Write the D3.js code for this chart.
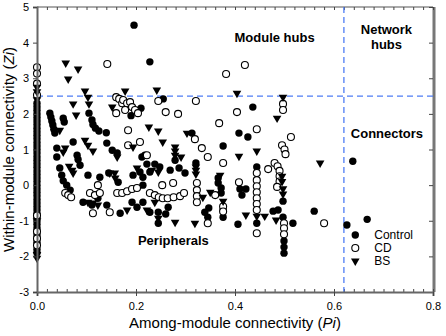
<!DOCTYPE html>
<html>
<head>
<meta charset="utf-8">
<script src="https://cdn.jsdelivr.net/npm/d3@7"></script>
<style>
body { margin: 0; background: #fff; }
text { font-family: Arial, "Liberation Sans", sans-serif; }
</style>
</head>
<body>
<div id="chart"></div>
<script>
// axis ticks and thresholds
var xTicks = [0, 0.2, 0.4, 0.6, 0.8];
var yTicks = [-3, -2, -1, 0, 1, 2, 3, 4, 5];
var piCut = 0.62, ziCut = 2.5;

// [Pi, Zi] per node
var control = [
[0,2.3],[0,2.2],[0,2.1],[0,2.0],[0,1.9],[0,1.8],[0,1.7],[0,1.6],[0,1.5],[0,1.4],[0,1.3],[0,1.2],[0,1.1],[0,1.0],
[0,0.9],[0,0.8],[0,0.7],[0,0.6],[0,0.5],[0,0.4],[0,0.3],[0,0.2],[0,0.1],[0,0.0],[0,-0.1],[0,-0.2],[0,-0.3],[0,-0.4],
[0,-0.5],[0,-0.6],[0,-0.7],[0,-0.8],[0,-0.9],[0,-1.0],[0,-1.1],[0,-1.2],[0,-1.3],[0,-1.4],[0,-1.5],[0,-1.6],[0,-1.8],[0,-1.9],
[0.026,2.02],[0.028,1.91],[0.03,1.8],[0.032,1.69],[0.034,1.57],[0.036,1.46],[0.053,1.88],[0.055,1.77],
[0.105,2.02],[0.111,1.83],[0.113,1.7],[0.118,1.6],[0.125,1.52],[0.14,1.47],
[0.19,1.95],[0.21,2.16],[0.196,4.49],[0.228,3.46],[0.255,2.42],[0.436,2.19],
[0.073,1.21],[0.04,1.04],[0.04,0.79],[0.081,0.84],[0.083,0.72],[0.141,1.18],[0.152,0.98],[0.162,0.9],[0.212,0.79],
[0.046,0.48],[0.05,0.28],[0.053,0.12],[0.06,0.0],[0.067,-0.14],[0.087,0.56],[0.103,0.28],[0.127,0.22],[0.145,0.34],
[0.164,0.08],[0.194,0.28],[0.214,0.22],[0.093,-0.48],[0.111,-0.56],[0.123,-0.37],[0.141,-0.56],[0.168,-0.79],
[0.192,-0.48],[0.202,-0.62],[0.218,0.84],[0.222,0.59],[0.238,0.59],[0.248,0.51],[0.269,0.42],[0.287,0.48],
[0.299,0.34],[0.228,0.37],[0.208,0.37],[0.279,0.7],[0.321,0.62],[0.214,0.0],
[0.366,0.06],[0.366,0.2],[0.372,-0.08],[0.372,-0.22],[0.41,-0.11],[0.422,-0.11],[0.414,-0.28],
[0.408,1.46],[0.426,1.35],[0.376,1.1],[0.444,0.51],[0.313,1.46],
[0.214,-0.48],[0.228,-0.76],[0.245,-0.76],[0.245,-1.07],[0.26,-0.81],[0.265,-0.62],
[0.339,-0.76],[0.347,-0.64],[0.345,-0.9],[0.376,-0.9],[0.376,-0.7],[0.406,-1.1],[0.444,-1.07],[0.477,-0.73],
[0.517,-1.07],[0.499,-1.57],[0.499,-1.74],[0.499,-1.91],[0.487,-0.7],[0.497,-0.45],[0.497,-0.9],
[0.56,-0.73],[0.626,-1.12],[0.667,-0.96],[0.638,0.67]
];

var cd = [
[0,3.31],[0,3.13],[0,2.85],[0,2.53],[0,-0.85],[0,-1.3],[0,-1.5],[0,-1.69],
[0.142,3.4],[0.16,2.47],[0.166,2.42],[0.172,2.3],[0.174,2.39],[0.182,2.3],[0.188,2.33],[0.192,2.19],
[0.198,2.11],[0.204,2.02],[0.16,2.02],[0.178,2.11],
[0.245,2.36],[0.26,2.05],[0.285,2.0],[0.321,2.36],[0.382,3.12],[0.42,3.37],[0.404,2.05],[0.497,2.28],[0.497,2.11],
[0.184,1.54],[0.208,1.21],[0.184,1.12],[0.222,0.84],
[0.368,1.74],[0.444,1.57],[0.513,1.35],[0.319,1.29],[0.333,1.04],[0.345,0.79],[0.495,1.12],[0.5,1.0],[0.502,0.87],[0.376,0.62],
[0.467,0.45],[0.48,0.62],[0.486,0.53],[0.49,0.4],[0.49,0.25],[0.49,0.1],[0.485,-0.05],
[0.444,0.34],[0.444,0.14],[0.444,-0.03],[0.444,-0.2],[0.444,-0.37],[0.444,-0.53],[0.444,-0.7],[0.444,-1.35],
[0.323,0.06],[0.323,-0.14],[0.323,-0.31],[0.323,-0.48],[0.408,0.08],[0.253,0.0],[0.275,0.06],
[0.228,-0.22],[0.238,-0.28],[0.246,-0.34],[0.254,-0.37],[0.264,-0.37],[0.276,-0.34],[0.289,-0.31],[0.297,-0.22],
[0.36,-0.28],[0.345,-1.07],[0.376,-0.6],[0.376,-0.74],[0.499,-1.07],[0.499,-1.21],[0.499,-1.38],[0.58,-1.07],
[0.057,-0.22],[0.063,-0.28],[0.069,-0.34],[0.107,-0.22],[0.117,-0.28],[0.127,-0.22],[0.113,-0.79],[0.123,0.0],
[0.162,-0.22],[0.172,-0.22],[0.182,-0.17],[0.192,-0.11],[0.202,-0.08],[0.147,-0.76]
];

var bs = [
[0,2.75],[0,2.62],[0,2.4],[0,-1.0],[0,-1.95],[0,-2.05],
[0.058,3.43],[0.083,3.26],[0.063,2.98],[0.097,2.64],[0.103,2.47],[0.178,2.64],[0.073,2.28],[0.079,1.97],
[0.105,2.28],[0.152,2.19],[0.046,1.54],
[0.097,1.26],[0.103,1.12],[0.113,0.96],[0.057,1.04],[0.053,0.93],[0.162,0.79],[0.194,1.07],
[0.065,0.53],[0.071,0.42],[0.157,0.34],[0.147,0.34],[0.158,0.2],[0.202,0.48],[0.073,0.34],
[0.242,2.67],[0.404,2.58],[0.497,2.47],[0.485,1.88],[0.226,1.63],[0.245,1.52],[0.254,1.21],[0.303,1.46],
[0.279,1.07],[0.279,0.96],[0.279,0.84],[0.291,0.79],[0.408,0.81],[0.444,0.96],
[0.232,0.42],[0.245,0.37],[0.321,0.51],[0.321,0.42],[0.321,0.31],
[0.37,0.28],[0.335,-0.34],[0.35,-0.2],
[0.103,-0.48],[0.113,-0.5],[0.123,-0.56],[0.182,-0.7],[0.222,-0.7],[0.238,-0.48],[0.245,-0.93],[0.279,-1.04],
[0.319,-1.07],[0.422,-0.84],[0.444,-0.87],[0.46,-0.87],[0.483,-0.98],
[0.572,0.62],[0.495,0.25],[0.495,0.1],[0.497,-0.1],[0.497,-0.25],[0.376,-0.45]
];

var W = 446, H = 336;
var margin = {top: 7, right: 13, bottom: 44, left: 37};
var width = W - margin.left - margin.right,
    height = H - margin.top - margin.bottom;

var svg = d3.select("#chart").append("svg")
    .attr("width", W).attr("height", H)
  .append("g")
    .attr("transform", `translate(${margin.left},${margin.top})`);

var x = d3.scaleLinear().domain([0, 0.8]).range([0, width]);
var y = d3.scaleLinear().domain([-3, 5]).range([height, 0]);

var minorX = d3.range(0, 0.801, 0.02);

// frame: top and right
svg.append("line").attr("x1", 0).attr("x2", width).attr("y1", 0).attr("y2", 0)
    .attr("stroke", "#555").attr("stroke-width", 1.2);
svg.append("line").attr("x1", width + 1).attr("x2", width + 1).attr("y1", 0).attr("y2", height)
    .attr("stroke", "#777").attr("stroke-width", 3);

// top minor ticks
svg.append("g").call(d3.axisTop(x).tickValues(minorX).tickSize(-3).tickFormat(""))
    .call(g => g.select(".domain").remove())
    .selectAll("line").attr("stroke", "#444");

// right ticks
svg.append("g").attr("transform", `translate(${width},0)`)
    .call(d3.axisRight(y).tickValues(yTicks).tickSize(-4).tickFormat(""))
    .call(g => g.select(".domain").remove())
    .selectAll("line").attr("stroke", "#444");

// bottom minor ticks pointing in
svg.append("g").attr("transform", `translate(0,${height})`)
    .call(d3.axisBottom(x).tickValues(minorX).tickSize(-3).tickFormat(""))
    .call(g => g.select(".domain").remove())
    .selectAll("line").attr("stroke", "#444");

// dashed thresholds
svg.append("line").attr("x1", x(piCut)).attr("x2", x(piCut)).attr("y1", 0).attr("y2", height)
    .attr("stroke", "#4d7cf5").attr("stroke-width", 1.3).attr("stroke-dasharray", "6,4");
svg.append("line").attr("x1", 0).attr("x2", width).attr("y1", y(ziCut)).attr("y2", y(ziCut))
    .attr("stroke", "#4d7cf5").attr("stroke-width", 1.3).attr("stroke-dasharray", "6,4");

// points
var tri = d3.symbol().type(d3.symbolTriangle).size(32);

svg.append("g").selectAll("circle").data(control).join("circle")
    .attr("cx", d => x(d[0])).attr("cy", d => y(d[1])).attr("r", 3.7)
    .attr("fill", "#000");

svg.append("g").selectAll("circle").data(cd).join("circle")
    .attr("cx", d => x(d[0])).attr("cy", d => y(d[1])).attr("r", 3.5)
    .attr("fill", "#fff").attr("stroke", "#000").attr("stroke-width", 1.1);

svg.append("g").selectAll("path").data(bs).join("path")
    .attr("d", tri)
    .attr("transform", d => `translate(${x(d[0])},${y(d[1])}) rotate(180)`)
    .attr("fill", "#000");

// bottom axis
var xAxis = svg.append("g").attr("transform", `translate(0,${height})`)
    .call(d3.axisBottom(x).tickValues(xTicks).tickSize(4).tickPadding(6).tickFormat(d3.format(".1f")));
xAxis.select(".domain").attr("stroke", "#666").attr("stroke-width", 2);
xAxis.selectAll("line").attr("stroke", "#444");
xAxis.selectAll("text").attr("font-size", 11).attr("fill", "#000");

// left axis
var yAxis = svg.append("g")
    .call(d3.axisLeft(y).tickValues(yTicks).tickSize(4).tickPadding(4).tickFormat(d => String(d)));
yAxis.select(".domain").attr("stroke", "#666").attr("stroke-width", 2);
yAxis.selectAll("line").attr("stroke", "#444");
yAxis.selectAll("text").attr("font-size", 11).attr("fill", "#000");

// axis titles
var xt = svg.append("text").attr("x", width / 2).attr("y", height + 36)
    .attr("text-anchor", "middle").attr("font-size", 15);
xt.append("tspan").text("Among-module connectivity (");
xt.append("tspan").attr("font-style", "italic").text("Pi");
xt.append("tspan").text(")");

var yt = svg.append("text").attr("transform", `translate(-23,${height / 2}) rotate(-90)`)
    .attr("text-anchor", "middle").attr("font-size", 15);
yt.append("tspan").text("Within-module connectivity (");
yt.append("tspan").attr("font-style", "italic").text("Zi");
yt.append("tspan").text(")");

// region labels
function label(t, px, py) {
  svg.append("text").attr("x", px).attr("y", py).attr("text-anchor", "middle")
    .attr("font-size", 13).attr("font-weight", "bold").text(t);
}
label("Module hubs", x(0.48), y(4.03));
label("Network", x(0.706), y(4.25));
label("hubs", x(0.706), y(3.82));
label("Connectors", x(0.707), y(1.33));
label("Peripherals", x(0.2755), y(-1.67));

// legend
var legend = [["Control", "fill"], ["CD", "open"], ["BS", "tri"]];
var lg = svg.append("g").attr("transform", `translate(${x(0.643)},${y(-1.4)})`);
legend.forEach(function(l, i) {
  var g = lg.append("g").attr("transform", `translate(0,${i * 13})`);
  if (l[1] === "fill") g.append("circle").attr("r", 3.7).attr("fill", "#000");
  else if (l[1] === "open") g.append("circle").attr("r", 3.5).attr("fill", "#fff").attr("stroke", "#000").attr("stroke-width", 1.1);
  else g.append("path").attr("d", tri).attr("transform", "rotate(180)").attr("fill", "#000");
  g.append("text").attr("x", 19).attr("y", 4).attr("font-size", 12).text(l[0]);
});
</script>
</body>
</html>
